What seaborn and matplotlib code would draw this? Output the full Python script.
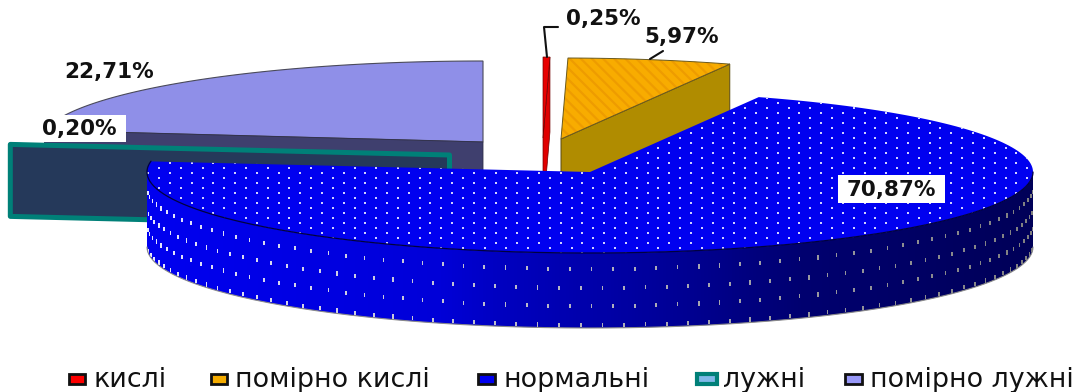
import numpy as np
import pandas as pd
import matplotlib
matplotlib.use("Agg")
import matplotlib.pyplot as plt
import seaborn as sns
from matplotlib.patches import Polygon, Rectangle
from matplotlib.path import Path
from matplotlib.colors import LinearSegmentedColormap

# Soil reaction classes and their shares, percent
categories = ["кислі", "помірно кислі", "нормальні", "лужні", "помірно лужні"]
shares = [0.25, 5.97, 70.87, 0.20, 22.71]
value_labels = ["0,25%", "5,97%", "70,87%", "0,20%", "22,71%"]

top_colors = ["#E80000", "#F8AC00", "#0000F0", "#008078", "#8F8FE8"]
side_colors = ["#E00000", "#B08C00", "#0000A0", "#25395A", "#3F3F6E"]

sns.set_theme(style="white")
plt.rcParams["font.family"] = ["DejaVu Sans"]
plt.rcParams["hatch.linewidth"] = 1.6

PX = 72 / 100  # points per pixel at 100 dpi
RX, RY, DEPTH = 443.0, 81.0, 75.0
# Apex of every slice after it has been pulled out of the pie
apexes = [(543, 138), (561, 139), (590, 172), (449.5, 155), (483, 142)]

fig = plt.figure(figsize=(10.88, 3.92), dpi=100)
ax = fig.add_axes([0, 0, 1, 1])
ax.set_axis_off()


def ring(cx, cy, t0, t1, n=200):
    t = np.radians(np.linspace(t0, t1, n))
    return np.column_stack([cx + RX * np.cos(t), cy - RY * np.sin(t)])


# Clockwise from twelve o'clock, one pair of bounding angles per slice
edges = 90 - 3.6 * np.concatenate([[0], np.cumsum(shares)])
spans = list(zip(edges[:-1], edges[1:]))


def rim_point(i, angle):
    return ring(*apexes[i], angle, angle, 1)[0]


def cut_face(i, angle, depth=DEPTH):
    a = np.array(apexes[i], float)
    r = rim_point(i, angle)
    return np.array([a, r, r + [0, depth], a + [0, depth]])


def top_face(i):
    return np.vstack([apexes[i], ring(*apexes[i], *spans[i])])


# Back slice: moderately alkaline
ax.add_patch(Polygon(top_face(4), fc=top_colors[4], ec="#4A4A5A", lw=0.8, zorder=2))
ax.add_patch(Polygon(cut_face(4, spans[4][0]), fc=side_colors[4], ec="#30304A", lw=0.6, zorder=2))

# Pulled-out alkaline slice, seen almost edge-on
ax.add_patch(Polygon(cut_face(3, spans[3][0], DEPTH - 3), fc=side_colors[3], ec=top_colors[3],
                     lw=5 * PX, joinstyle="round", zorder=3))
ax.add_patch(Polygon(top_face(3), fc=top_colors[3], ec=top_colors[3], lw=1, zorder=3))

# Acid sliver
ax.add_patch(Polygon(cut_face(0, spans[0][1]), fc=side_colors[0], ec="#700000", lw=0.5, zorder=4))
ax.add_patch(Polygon(top_face(0), fc=top_colors[0], ec="#700000", lw=0.5, zorder=4))

# Moderately acid slice
ax.add_patch(Polygon(cut_face(1, spans[1][1]), fc=side_colors[1], ec="#5A4A10", lw=0.7, zorder=4))
ax.add_patch(Polygon(top_face(1), fc=top_colors[1], ec="#EE9C00", hatch="\\\\\\", lw=0, zorder=4))
ax.add_patch(Polygon(top_face(1), fill=False, ec="#6A5A20", lw=0.7, zorder=4))

# Front slice: outer wall with a left-to-right shading
cx, cy = apexes[2]
front = ring(cx, cy, 180, 360)
wall = np.vstack([front, (front + [0, DEPTH])[::-1]])
wall_patch = Polygon(wall, fc="none", ec="none", zorder=5)
ax.add_patch(wall_patch)
shade_stops = [(0.0, "#0000F0"), (0.33, "#0000D8"), (0.40, "#0000C0"),
               (0.57, "#00009C"), (0.74, "#000070"), (1.0, "#000058")]
shade = LinearSegmentedColormap.from_list("wall", shade_stops)
img = ax.imshow(np.linspace(0, 1, 256)[None, :], cmap=shade, aspect="auto",
                extent=[cx - RX, cx + RX, cy + RY + DEPTH, cy - RY], zorder=5)
img.set_clip_path(wall_patch)

# Dots printed on the wall, staggered along the arc
wall_x, wall_y, wall_c = [], [], []
left_dot, right_dot = np.array([0.90, 0.90, 1.0]), np.array([0.50, 0.50, 0.50])
for row, depth in enumerate([16, 35, 53, 72]):
    for t in np.arange(183.4 + 1.4 * (row % 2), 358, 2.8):
        p = ring(cx, cy, t, t, 1)[0] + [0, depth]
        mix = (p[0] - (cx - RX)) / (2 * RX)
        wall_x.append(p[0])
        wall_y.append(p[1])
        wall_c.append(left_dot * (1 - mix) + right_dot * mix)
bar = Path([(-1, -2.5), (1, -2.5), (1, 2.5), (-1, 2.5), (-1, -2.5)], closed=True)
wall_dots = ax.scatter(wall_x, wall_y, s=9, marker=bar, c=wall_c, linewidths=0, zorder=6)
wall_dots.set_clip_path(wall_patch)
ax.plot(*(front + [0, DEPTH]).T, color="#8A8A8A", lw=0.8, zorder=6)

# Top of the front slice with its dot screen
blue = Polygon(top_face(2), fc=top_colors[2], ec="none", zorder=7)
ax.add_patch(blue)
rows = np.arange(-30, 30)
gx, gy = np.meshgrid(np.arange(-30, 30) * 21.7 + 517.3, rows * 5.0 + 233.3)
gx = gx + (rows % 2)[:, None] * 10.85
dots = pd.DataFrame({"x": gx.ravel(), "y": gy.ravel()})
dash = Path([(-1.5, -0.75), (1.5, -0.75), (1.5, 0.75), (-1.5, 0.75), (-1.5, -0.75)], closed=True)
sns.scatterplot(data=dots, x="x", y="y", marker=dash, s=3.6, color="#D0D0FF",
                linewidth=0, ax=ax, zorder=8, legend=False)
ax.collections[-1].set_clip_path(blue)
ax.plot(*ring(cx, cy, 172.3, 360).T, color="#000040", lw=0.9, zorder=8)

# Leader lines
ax.plot([547, 544, 558], [57, 27, 27], color="#111111", lw=1.5, zorder=9)
ax.plot([650, 663], [59, 51], color="#111111", lw=1.5, zorder=9)

# Value labels
label_font = dict(fontsize=15.5, fontweight="bold", color="#111111", zorder=11, ha="center", va="center")
ax.text(603, 19, value_labels[0], **label_font)
ax.add_patch(Rectangle((641, 26), 80, 22, fc="white", ec="none", zorder=10))
ax.text(682, 37, value_labels[1], **label_font)
ax.add_patch(Rectangle((838, 175), 107, 28, fc="white", ec="none", zorder=10))
ax.text(891.5, 189.5, value_labels[2], **label_font)
ax.add_patch(Rectangle((33, 115), 93, 27, fc="white", ec="none", zorder=10))
ax.text(79.5, 129, value_labels[3], **label_font)
ax.text(109, 72, value_labels[4], **label_font)

# Legend row
swatch_x = [(68, 86), (210, 228), (477, 496), (696, 718), (844, 863)]
text_x = [93, 235, 503, 723, 870]
swatch_edge = ["#111111", "#111111", "#111111", "#008078", "#111111"]
swatch_fill = ["#FF0000", "#F5AC00", "#0000F0", "#7FB8E8", "#9898F8"]
for i, name in enumerate(categories):
    x0, x1 = swatch_x[i]
    ax.add_patch(Rectangle((x0 + 1, 374), x1 - x0 - 2, 10, fc=swatch_fill[i], ec=swatch_edge[i],
                           lw=2 if i != 3 else 3, zorder=9))
    ax.text(text_x[i], 387, name, fontsize=19.4, color="#111111", ha="left", va="baseline", zorder=9)

ax.set_xlim(0, 1088)
ax.set_ylim(392, 0)
ax.set(xlabel="", ylabel="")
fig.savefig("out.png", dpi=100, facecolor="white")
